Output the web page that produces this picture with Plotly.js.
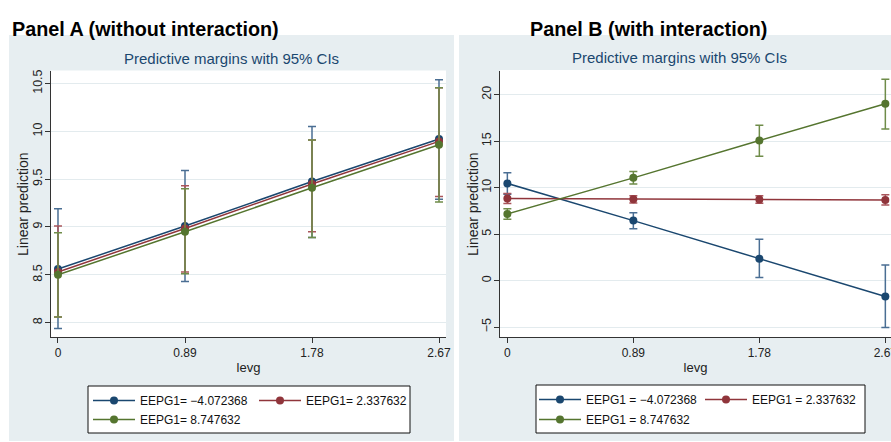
<!DOCTYPE html>
<html><head><meta charset="utf-8">
<script src="https://cdn.plot.ly/plotly-3.0.1.min.js"></script>
<style>html,body{margin:0;padding:0;background:#fff}#chart{width:891px;height:442px}</style>
</head><body><div id="chart"></div>
<script>
// ---- data ----
const levg = [0, 0.89, 1.78, 2.67];
const levgTicks = ['0', '0.89', '1.78', '2.67'];
const namesA = ['EEPG1= \u22124.072368', 'EEPG1= 2.337632', 'EEPG1= 8.747632'];
const namesB = ['EEPG1 = \u22124.072368', 'EEPG1 = 2.337632', 'EEPG1 = 8.747632'];
const yTicksA = [8, 8.5, 9, 9.5, 10, 10.5];
const yTicksB = [-5, 0, 5, 10, 15, 20];

// Panel A (without interaction)
const aBlue = [8.56, 9.01, 9.475, 9.92];
const aBlueLo = [7.94, 8.43, 8.89, 9.29];
const aBlueHi = [9.19, 9.59, 10.05, 10.54];
const aRed = [8.53, 8.985, 9.45, 9.895];
const aRedLo = [8.06, 8.53, 8.95, 9.32];
const aRedHi = [9.01, 9.43, 9.91, 10.455];
const aGreen = [8.50, 8.95, 9.41, 9.86];
const aGreenLo = [8.06, 8.51, 8.89, 9.26];
const aGreenHi = [8.94, 9.40, 9.91, 10.455];

// Panel B (with interaction)
const bBlue = [10.45, 6.45, 2.36, -1.72];
const bBlueLo = [9.30, 5.58, 0.32, -5.04];
const bBlueHi = [11.59, 7.30, 4.44, 1.68];
const bRed = [8.82, 8.75, 8.73, 8.66];
const bRedLo = [8.30, 8.35, 8.32, 8.12];
const bRedHi = [9.38, 9.12, 9.12, 9.22];
const bGreen = [7.16, 11.05, 15.06, 19.03];
const bGreenLo = [6.59, 10.40, 13.38, 16.30];
const bGreenHi = [7.73, 11.74, 16.70, 21.67];

// ---- styling ----
const lineCol = ['#1a476f', '#90353b', '#55752f'];
const ciCol = ['#4a6e93', '#a9555b', '#6f8c49'];
const SANS = '"Liberation Sans", Arial, sans-serif';
const W = 891, H = 442;
const px = v => v / W, py = v => 1 - v / H;

function mk(y, lo, hi, i, name, xa, ya, leg) {
  return {
    x: levg, y: y, name: name, type: 'scatter', mode: 'lines+markers',
    xaxis: xa, yaxis: ya, legend: leg,
    line: {color: lineCol[i], width: 1.5},
    marker: {color: lineCol[i], size: 8},
    error_y: {type: 'data', symmetric: false,
      array: hi.map((h, k) => h - y[k]), arrayminus: lo.map((l, k) => y[k] - l),
      color: ciCol[i], thickness: 1.5, width: 4},
    hoverinfo: 'skip'
  };
}

const traces = [
  mk(aBlue, aBlueLo, aBlueHi, 0, namesA[0], 'x', 'y', 'legend'),
  mk(aRed, aRedLo, aRedHi, 1, namesA[1], 'x', 'y', 'legend'),
  mk(aGreen, aGreenLo, aGreenHi, 2, namesA[2], 'x', 'y', 'legend2'),
  mk(bBlue, bBlueLo, bBlueHi, 0, namesB[0], 'x2', 'y2', 'legend3'),
  mk(bRed, bRedLo, bRedHi, 1, namesB[1], 'x2', 'y2', 'legend3'),
  mk(bGreen, bGreenLo, bGreenHi, 2, namesB[2], 'x2', 'y2', 'legend4')
];

const axCommon = {
  showline: true, linecolor: '#333', linewidth: 1, ticks: 'outside', ticklen: 5,
  tickcolor: '#333', tickwidth: 1, zeroline: false, fixedrange: true
};
function xax(domain, range, anchor) {
  return Object.assign({}, axCommon, {
    domain: domain, range: range, anchor: anchor, tickvals: levg, ticktext: levgTicks,
    showgrid: false, ticklabeloverflow: 'allow',
    tickfont: {family: SANS, size: 12, color: '#222'},
    title: {text: 'levg', font: {family: SANS, size: 13, color: '#222'}, standoff: 3}
  });
}
function yax(range, ticks, anchor) {
  return Object.assign({}, axCommon, {
    domain: [py(337), py(70.5)], range: range, anchor: anchor, tickvals: ticks,
    tickangle: -90, showgrid: true, gridcolor: '#e3ebee', gridwidth: 1,
    ticklabelstandoff: -2,
    tickfont: {family: SANS, size: 12.5, color: '#222'}
  });
}
function legendAt(x, ytop) {
  return {x: px(x), y: py(ytop), xanchor: 'left', yanchor: 'top', orientation: 'h',
    bgcolor: 'rgba(0,0,0,0)', borderwidth: 0, itemwidth: 42, entrywidth: 109,
    font: {family: SANS, size: 12, color: '#111'}, itemclick: false, itemdoubleclick: false};
}
const panelBg = '#e7eef1';
const rect = (x0, y0, x1, y1, fill, line) => ({type: 'rect', xref: 'paper', yref: 'paper', layer: 'below',
  x0: px(x0), x1: px(x1), y0: py(y1), y1: py(y0), fillcolor: fill,
  line: line ? {color: line, width: 1} : {width: 0}});
const ann = (text, x, y, font, extra) => Object.assign({text: text, xref: 'paper', yref: 'paper',
  x: px(x), y: py(y), xanchor: 'center', yanchor: 'middle', showarrow: false, font: font}, extra || {});

const titleFont = {family: SANS, size: 19.8, color: '#000', weight: 'bold'};
const subFont = {family: SANS, size: 15, color: '#1a476f'};
const yTitleFont = {family: SANS, size: 14, color: '#222'};

const layout = {
  width: W, height: H, margin: {l: 0, r: 0, t: 0, b: 0},
  paper_bgcolor: '#ffffff', plot_bgcolor: 'rgba(0,0,0,0)',
  font: {family: SANS, color: '#222'}, showlegend: true,
  xaxis: xax([px(51), px(446)], [-0.049, 2.719], 'y'),
  yaxis: yax([7.85, 10.636], yTicksA, 'x'),
  xaxis2: xax([px(500), 1], [-0.052, 2.71], 'y2'),
  yaxis2: yax([-6.07, 22.6], yTicksB, 'x2'),
  legend: legendAt(88, 386),
  legend2: legendAt(88, 405),
  legend3: legendAt(534, 385),
  legend4: legendAt(534, 405),
  shapes: [
    rect(9, 35, 454, 441, panelBg),
    rect(459, 35, 891, 441, panelBg),
    rect(51, 70.5, 446, 337, '#ffffff'),
    rect(500, 70, 891, 337, '#ffffff'),
    rect(88, 386, 410, 433, '#ffffff', '#111'),
    rect(536, 385, 865, 433, '#ffffff', '#111')
  ],
  annotations: [
    ann('Panel A (without interaction)', 10, 29.5, titleFont, {xanchor: 'left'}),
    ann('Panel B (with interaction)', 648, 29.5, titleFont),
    ann('Predictive margins with 95% CIs', 232, 59, subFont),
    ann('Predictive margins with 95% CIs', 679, 58, subFont),
    ann('Linear prediction', 23, 204, yTitleFont, {textangle: -90}),
    ann('Linear prediction', 473, 204, yTitleFont, {textangle: -90})
  ]
};

Plotly.newPlot('chart', traces, layout, {displayModeBar: false, staticPlot: true});
</script>
</body></html>
